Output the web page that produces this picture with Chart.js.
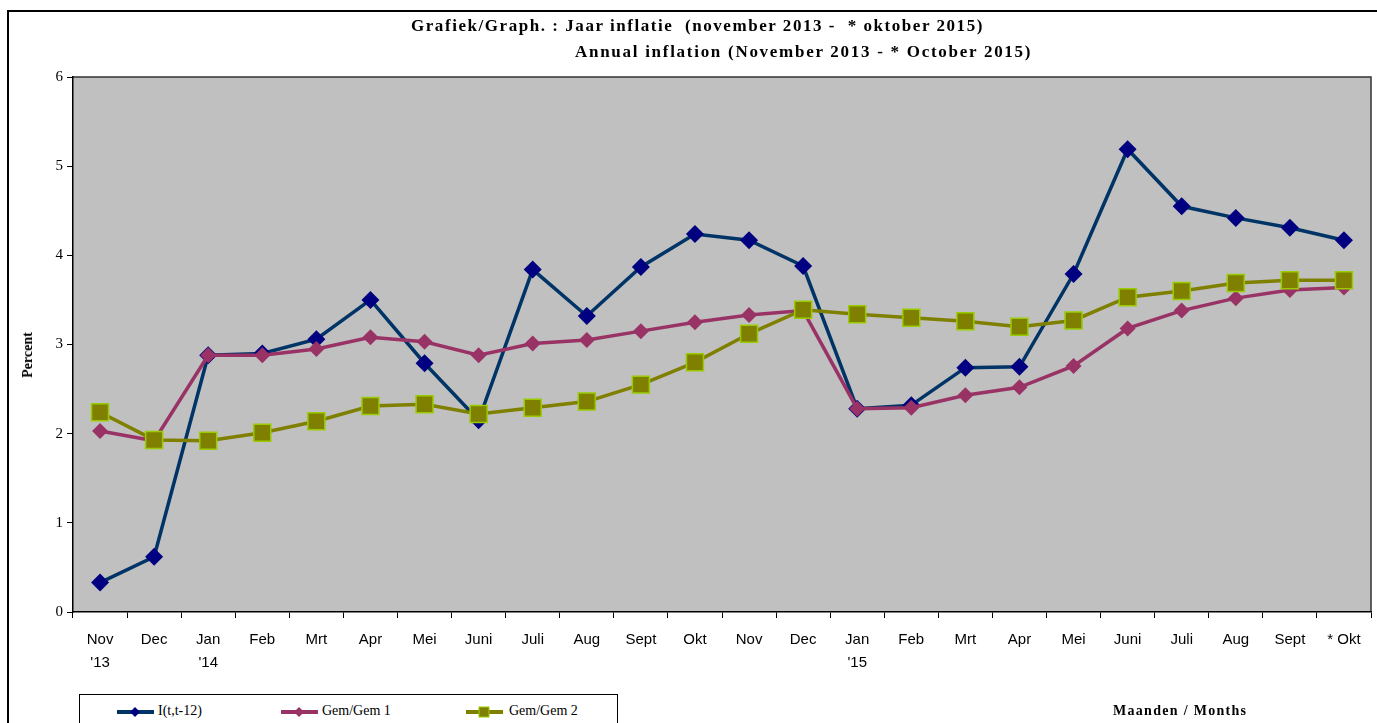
<!DOCTYPE html>
<html>
<head>
<meta charset="utf-8">
<script src="https://cdn.jsdelivr.net/npm/chart.js"></script>
<style>
  body { margin: 0; background: #fff; overflow: hidden; }
  #wrap { position: absolute; left: 0; top: 0; width: 1377px; height: 723px; }
  #frame { position: absolute; left: 7px; top: 10px; width: 1400px; height: 800px; border: 2px solid #000; box-sizing: border-box; }
  .txt { position: absolute; font-family: "Liberation Serif", serif; font-weight: bold; color: #000; white-space: pre; }
  #t1 { left: 411px; top: 16px; font-size: 17px; letter-spacing: 1.55px; }
  #t2 { left: 575px; top: 42px; font-size: 17px; letter-spacing: 1.72px; }
  #ytitle { left: 28px; top: 355px; font-size: 14px; transform: translate(-50%, -50%) rotate(-90deg); }
  #xtitle { left: 1113px; top: 703px; font-size: 14px; letter-spacing: 1.3px; }
  #legend { position: absolute; left: 79px; top: 694px; width: 539px; height: 60px; border: 1px solid #000; box-sizing: border-box; background: #fff; }
  .item { position: absolute; top: 9px; font-family: "Liberation Serif", serif; font-size: 14px; }
  .item canvas { position: absolute; top: 0; }
  .item span { position: absolute; top: -1px; white-space: nowrap; }
  canvas#chart { position: absolute; left: 0; top: 0; }
</style>
</head>
<body>
<div id="wrap">
  <div id="frame"></div>
  <canvas id="chart" width="1377" height="723"></canvas>
  <div class="txt" id="t1">Grafiek/Graph. : Jaar inflatie  (november 2013 -  * oktober 2015)</div>
  <div class="txt" id="t2">Annual inflation (November 2013 - * October 2015)</div>
  <div class="txt" id="ytitle">Percent</div>
  <div class="txt" id="xtitle">Maanden / Months</div>
  <div id="legend"></div>
</div>
<script>
// categories
const months = [
  ['Nov', "'13"], 'Dec', ['Jan', "'14"], 'Feb', 'Mrt', 'Apr', 'Mei', 'Juni', 'Juli', 'Aug', 'Sept', 'Okt',
  'Nov', 'Dec', ['Jan', "'15"], 'Feb', 'Mrt', 'Apr', 'Mei', 'Juni', 'Juli', 'Aug', 'Sept', '* Okt'
];

// series
const inflYoY = [0.33, 0.62, 2.88, 2.90, 3.06, 3.50, 2.79, 2.15, 3.84, 3.32, 3.87, 4.24,
                 4.17, 3.88, 2.28, 2.32, 2.74, 2.75, 3.79, 5.19, 4.55, 4.42, 4.31, 4.17];
const gemGem1 = [2.03, 1.92, 2.88, 2.88, 2.95, 3.08, 3.03, 2.88, 3.01, 3.05, 3.15, 3.25,
                 3.33, 3.38, 2.28, 2.29, 2.43, 2.52, 2.76, 3.18, 3.38, 3.52, 3.61, 3.64];
const gemGem2 = [2.24, 1.93, 1.92, 2.01, 2.14, 2.31, 2.33, 2.22, 2.29, 2.36, 2.55, 2.80,
                 3.12, 3.39, 3.34, 3.30, 3.26, 3.20, 3.27, 3.53, 3.60, 3.69, 3.72, 3.72];
const yTicks = [0, 1, 2, 3, 4, 5, 6];

const series = [
  { label: 'I(t,t-12)', data: inflYoY, line: '#003366', fill: '#000080', stroke: '#000080', style: 'rectRot', r: 9, bw: 0, order: 2, lx: 36, tx: 78 },
  { label: 'Gem/Gem 1', data: gemGem1, line: '#993366', fill: '#993366', stroke: '#993366', style: 'rectRot', r: 8, bw: 0, order: 1, lx: 200, tx: 242 },
  { label: 'Gem/Gem 2', data: gemGem2, line: '#808000', fill: '#808000', stroke: '#99CC00', style: 'rect', r: 12, bw: 1.5, order: 0, lx: 385, tx: 429 }
];

// plot background + top/right border
const plotBg = {
  id: 'plotBg',
  beforeDraw(chart) {
    const { ctx, chartArea: a } = chart;
    ctx.save();
    ctx.fillStyle = '#C0C0C0';
    ctx.fillRect(a.left, a.top, a.right - a.left, a.bottom - a.top);
    ctx.strokeStyle = '#333';
    ctx.lineWidth = 1.5;
    ctx.beginPath();
    ctx.moveTo(a.left, a.top);
    ctx.lineTo(a.right, a.top);
    ctx.lineTo(a.right, a.bottom);
    ctx.stroke();
    ctx.restore();
  }
};

new Chart(document.getElementById('chart'), {
  type: 'line',
  data: {
    labels: months,
    datasets: series.map(s => ({
      label: s.label,
      data: s.data,
      borderColor: s.line,
      borderWidth: 3.5,
      tension: 0,
      pointStyle: s.style,
      pointRadius: s.r,
      pointHoverRadius: s.r,
      pointBackgroundColor: s.fill,
      pointBorderColor: s.stroke,
      pointBorderWidth: s.bw,
      order: s.order
    }))
  },
  options: {
    responsive: false,
    animation: false,
    layout: { autoPadding: false, padding: { top: 77, right: 6, left: 0, bottom: 0 } },
    plugins: { legend: { display: false }, tooltip: { enabled: false } },
    scales: {
      x: {
        offset: true,
        grid: { offset: true, drawOnChartArea: false, tickLength: 6, color: '#000' },
        border: { color: '#000', width: 1.5 },
        ticks: {
          autoSkip: false, maxRotation: 0, minRotation: 0, color: '#000', padding: 10,
          font: { family: 'Liberation Sans', size: 15, lineHeight: 1.55 }
        },
        afterFit(scale) {
          scale.height = 111;
          scale.paddingLeft = 0;
          scale.paddingRight = 0;
        }
      },
      y: {
        min: 0, max: 6,
        afterBuildTicks(scale) { scale.ticks = yTicks.map(v => ({ value: v })); },
        grid: { drawOnChartArea: false, tickLength: 6, color: '#000' },
        border: { color: '#000', width: 1.5 },
        ticks: { color: '#000', padding: 4, font: { family: 'Liberation Serif', size: 15 } },
        afterFit(scale) { scale.width = 73; }
      }
    }
  },
  plugins: [plotBg]
});

// legend (html)
const leg = document.getElementById('legend');
series.forEach(s => {
  const it = document.createElement('div');
  it.className = 'item';
  it.style.left = '0px';
  const c = document.createElement('canvas');
  c.width = 40; c.height = 16;
  c.style.left = s.lx + 'px';
  const g = c.getContext('2d');
  g.strokeStyle = s.line; g.lineWidth = 4;
  g.beginPath(); g.moveTo(1, 8); g.lineTo(38, 8); g.stroke();
  g.fillStyle = s.fill;
  if (s.style === 'rect') {
    g.fillRect(14, 3, 10, 10);
    g.strokeStyle = s.stroke; g.lineWidth = 1; g.strokeRect(14, 3, 10, 10);
  } else {
    g.beginPath(); g.moveTo(19, 3); g.lineTo(24, 8); g.lineTo(19, 13); g.lineTo(14, 8); g.closePath(); g.fill();
  }
  const t = document.createElement('span');
  t.textContent = s.label;
  t.style.left = s.tx + 'px';
  it.appendChild(c); it.appendChild(t);
  leg.appendChild(it);
});
</script>
</body>
</html>
